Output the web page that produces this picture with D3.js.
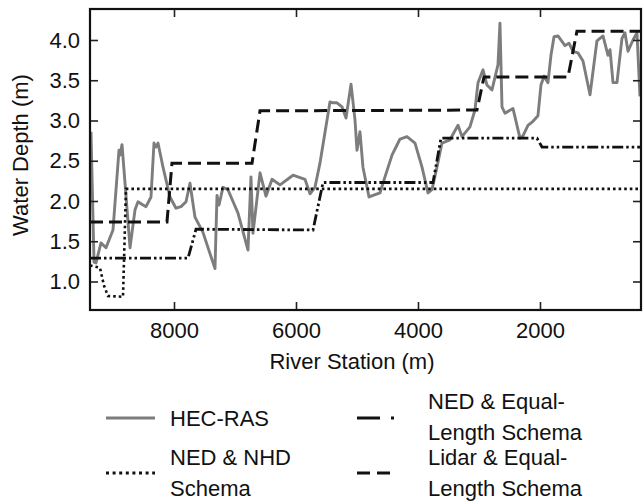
<!DOCTYPE html>
<html>
<head>
<meta charset="utf-8">
<script src="https://cdn.jsdelivr.net/npm/d3@7"></script>
<style>
  html, body { margin: 0; padding: 0; background: #fff; }
  svg { display: block; }
  text { font-family: "Liberation Sans", Arial, Helvetica, sans-serif; fill: #111; }
</style>
</head>
<body>
<svg id="chart" width="644" height="501"></svg>
<script>
// ---- Data (River Station in m, Water Depth in m) ----
const hecStation = [9361,9311,9279,9197,9115,9000,8902,8885,8852,8721,8639,8590,8508,8459,8377,8328,8295,8262,8180,8066,
  7967,7885,7803,7738,7656,7525,7328,7295,7262,7197,7115,6951,6787,6738,6705,6590,6492,6393,6262,6049,
  5853,5770,5689,5607,5443,5394,5328,5246,5180,5098,5033,5000,4951,4902,4803,4623,4541,4426,4295,4180,
  4049,3934,3836,3771,3689,3607,3476,3344,3279,3148,3066,3016,2934,2869,2787,2689,2656,2623,2574,2443,
  2328,2279,2197,2115,2033,1984,1934,1869,1820,1770,1705,1590,1525,1459,1377,1295,1180,1066,967,885,
  852,803,738,656,607,557,475,410,361];
const hecDepth = [2.86,1.24,1.23,1.48,1.42,1.64,2.63,2.57,2.70,1.42,1.89,1.99,1.95,1.93,2.05,2.72,2.67,2.72,2.42,2.05,
  1.91,1.93,1.99,2.22,1.80,1.61,1.16,2.07,1.95,2.17,2.14,1.85,1.39,2.30,1.60,2.35,2.06,2.27,2.20,2.32,
  2.27,2.09,2.17,2.47,3.23,3.22,3.22,3.17,3.03,3.45,3.01,2.63,2.86,2.42,2.05,2.10,2.30,2.57,2.77,2.80,
  2.72,2.42,2.10,2.14,2.42,2.72,2.76,2.94,2.80,2.92,3.13,3.47,3.63,3.44,3.38,3.69,4.21,3.17,3.09,3.15,
  2.78,2.81,2.94,2.99,3.06,3.44,3.55,3.47,3.81,4.04,4.05,3.93,3.96,3.86,3.84,3.74,3.32,3.99,4.05,3.81,
  3.88,3.47,3.47,4.02,4.09,3.86,4.00,4.09,3.30];

const nhdStation = [9377,9213,9148,9082,8836,8787,344];
const nhdDepth   = [1.20,1.17,0.95,0.82,0.81,2.15,2.15];

const nedEqStation = [9377,7770,7639,5721,5557,3754,3623,2049,1967,344];
const nedEqDepth   = [1.29,1.29,1.65,1.64,2.23,2.23,2.78,2.78,2.67,2.67];

const lidarStation = [9377,8115,8033,6721,6590,3033,2918,1541,1394,344];
const lidarDepth   = [1.74,1.74,2.47,2.47,3.12,3.13,3.54,3.54,4.11,4.11];

const xTicks = [8000,6000,4000,2000];
const yTicks = [1.0,1.5,2.0,2.5,3.0,3.5,4.0];
const xDomain = [9377, 344];
const yDomain = [0.646, 4.385];

const legendLabels = [["HEC-RAS"],["NED & NHD","Schema"],["NED & Equal-","Length Schema"],["Lidar & Equal-","Length Schema"]];

// ---- Layout ----
const svg = d3.select("#chart");
const L = 90, R = 641, T = 9, B = 310;
const x = d3.scaleLinear().domain(xDomain).range([L, R]);
const y = d3.scaleLinear().domain(yDomain).range([B, T]);

svg.append("defs").append("clipPath").attr("id","clip")
  .append("rect").attr("x",L).attr("y",T).attr("width",R-L).attr("height",B-T);

const zip = (a,b) => a.map((v,i)=>[v,b[i]]);
const line = d3.line().x(d=>x(d[0])).y(d=>y(d[1]));
const plot = svg.append("g").attr("clip-path","url(#clip)");

plot.append("path").datum(zip(hecStation,hecDepth)).attr("d",line)
  .attr("fill","none").attr("stroke","#7d7d7d").attr("stroke-width",2.9).attr("stroke-linejoin","round");
plot.append("path").datum(zip(nhdStation,nhdDepth)).attr("d",line)
  .attr("fill","none").attr("stroke","#111").attr("stroke-width",2.6).attr("stroke-dasharray","2.6,3");
plot.append("path").datum(zip(nedEqStation,nedEqDepth)).attr("d",line)
  .attr("fill","none").attr("stroke","#111").attr("stroke-width",2.8).attr("stroke-dasharray","11,3,2.5,3,2.5,3");
plot.append("path").datum(zip(lidarStation,lidarDepth)).attr("d",line)
  .attr("fill","none").attr("stroke","#111").attr("stroke-width",3).attr("stroke-dasharray","13,6");

// ---- Axes (inward ticks) ----
const fs = "22px";
const gx = svg.append("g").attr("transform",`translate(0,${B})`)
  .call(d3.axisBottom(x).tickValues(xTicks).tickSizeInner(-8).tickSizeOuter(0).tickPadding(12.5).tickFormat(d3.format("d")));
const gxt = svg.append("g").attr("transform",`translate(0,${T})`)
  .call(d3.axisTop(x).tickValues(xTicks).tickSizeInner(-8).tickSizeOuter(0).tickFormat(""));
const gy = svg.append("g").attr("transform",`translate(${L},0)`)
  .call(d3.axisLeft(y).tickValues(yTicks).tickSizeInner(-8).tickSizeOuter(0).tickPadding(10).tickFormat(d3.format(".1f")));
const gyr = svg.append("g").attr("transform",`translate(${R},0)`)
  .call(d3.axisRight(y).tickValues(yTicks).tickSizeInner(-8).tickSizeOuter(0).tickFormat(""));
[gx,gxt,gy,gyr].forEach(g=>{
  g.select(".domain").remove();
  g.selectAll(".tick line").attr("stroke","#222").attr("stroke-width",1.6);
  g.selectAll(".tick text").attr("font-size",fs).attr("font-family","Liberation Sans, Arial, sans-serif").attr("fill","#111");
});

svg.append("rect").attr("x",L).attr("y",T).attr("width",R-L).attr("height",B-T)
  .attr("fill","none").attr("stroke","#111").attr("stroke-width",2.2);

svg.append("text").attr("x",352).attr("y",369).attr("text-anchor","middle").attr("font-size",fs).text("River Station (m)");
svg.append("text").attr("transform","translate(28,155) rotate(-90)").attr("text-anchor","middle").attr("font-size",fs).text("Water Depth (m)");

// ---- Legend ----
const lg = svg.append("g");
lg.append("line").attr("x1",106).attr("x2",155).attr("y1",418).attr("y2",418).attr("stroke","#7d7d7d").attr("stroke-width",3);
lg.append("line").attr("x1",106).attr("x2",155).attr("y1",473).attr("y2",473).attr("stroke","#111").attr("stroke-width",3).attr("stroke-dasharray","3,3.6");
lg.append("line").attr("x1",357).attr("x2",395).attr("y1",418).attr("y2",418).attr("stroke","#111").attr("stroke-width",3).attr("stroke-dasharray","23,11,3,40");
lg.append("line").attr("x1",357).attr("x2",392).attr("y1",473).attr("y2",473).attr("stroke","#111").attr("stroke-width",3).attr("stroke-dasharray","13,7");

const legPos = [[170,426],[170,465],[428,409],[428,465]];
legendLabels.forEach((lines,i)=>{
  const t = lg.append("text").attr("x",legPos[i][0]).attr("y",legPos[i][1]).attr("font-size",fs);
  lines.forEach((s,j)=>t.append("tspan").attr("x",legPos[i][0]).attr("dy", j===0?0:31).text(s));
});
</script>
</body>
</html>
